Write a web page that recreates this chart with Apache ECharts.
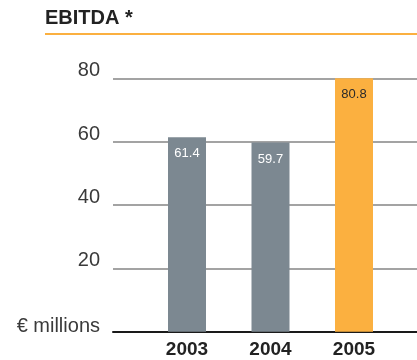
<!DOCTYPE html>
<html>
<head>
<meta charset="utf-8">
<script src="https://cdn.jsdelivr.net/npm/echarts@6/dist/echarts.min.js"></script>
<style>
  html, body { margin: 0; padding: 0; background: #fff; }
  #chart { width: 417px; height: 360px; }
</style>
</head>
<body>
<div id="chart"></div>
<script>
// EBITDA by year, € millions
const years = ['2003', '2004', '2005'];
const ebitda = [61.4, 59.7, 80.8];
const barColors = ['#7c8891', '#7c8891', '#fbb040'];
const labelColors = ['#ffffff', '#ffffff', '#2a2a2a'];
const yTicks = [0, 20, 40, 60, 80];
const unitLabel = '€ millions';

const chart = echarts.init(document.getElementById('chart'), null, { renderer: 'canvas' });

const yMin = yTicks[0];
const yMax = yTicks[yTicks.length - 1];
const yStep = yTicks[1] - yTicks[0];

chart.setOption({
  animation: false,
  backgroundColor: '#ffffff',
  title: {
    text: 'EBITDA *',
    left: 40,
    top: 3,
    textStyle: { fontFamily: 'Liberation Sans', fontWeight: 'bold', fontSize: 20, color: '#222222' }
  },
  graphic: [{
    type: 'line',
    shape: { x1: 45, y1: 34, x2: 417, y2: 34 },
    style: { stroke: '#fbb040', lineWidth: 2 }
  }],
  grid: [
    // value scale and rules across the full width
    { left: 113, right: 0, top: 78.3, bottom: 28.3 },
    // bars
    { left: 145.25, right: 21.25, top: 78.3, bottom: 28.3 }
  ],
  xAxis: [
    {
      gridIndex: 0, type: 'value', min: 0, max: 1,
      axisLine: { show: true, lineStyle: { color: '#1a1a1a', width: 2 } },
      axisTick: { show: false }, axisLabel: { show: false }, splitLine: { show: false }
    },
    {
      gridIndex: 1, type: 'category', data: years,
      axisLine: { show: false }, axisTick: { show: false },
      axisLabel: {
        margin: 9,
        fontFamily: 'Liberation Sans', fontWeight: 'bold', fontSize: 19, color: '#222222'
      }
    }
  ],
  yAxis: [
    {
      gridIndex: 0, type: 'value', min: yMin, max: yMax, interval: yStep,
      axisLine: { show: false }, axisTick: { show: false },
      splitLine: { show: true, lineStyle: { color: '#858585', width: 1.5 } },
      axisLabel: {
        margin: 13,
        fontFamily: 'Liberation Sans', fontSize: 20, color: '#3a3a3a',
        formatter: function (v) {
          return v === yMin ? '{u|' + unitLabel + '}' : '{n|' + v + '}';
        },
        rich: {
          n: { fontFamily: 'Liberation Sans', fontSize: 20, color: '#3a3a3a', padding: [0, 0, 15, 0] },
          u: { fontFamily: 'Liberation Sans', fontSize: 20, color: '#3a3a3a', padding: [0, 0, 10, 0] }
        }
      }
    },
    {
      gridIndex: 1, type: 'value', min: yMin, max: yMax, interval: yStep,
      show: false, splitLine: { show: false }
    }
  ],
  series: [{
    type: 'bar',
    xAxisIndex: 1,
    yAxisIndex: 1,
    barWidth: 38,
    data: ebitda.map(function (v, i) {
      return {
        value: v,
        itemStyle: { color: barColors[i] },
        label: { color: labelColors[i] }
      };
    }),
    label: {
      show: true,
      position: 'insideTop',
      distance: 10,
      fontFamily: 'Liberation Sans',
      fontSize: 13,
      formatter: function (p) { return p.value.toFixed(1); }
    },
    z: 3
  }]
});
</script>
</body>
</html>
